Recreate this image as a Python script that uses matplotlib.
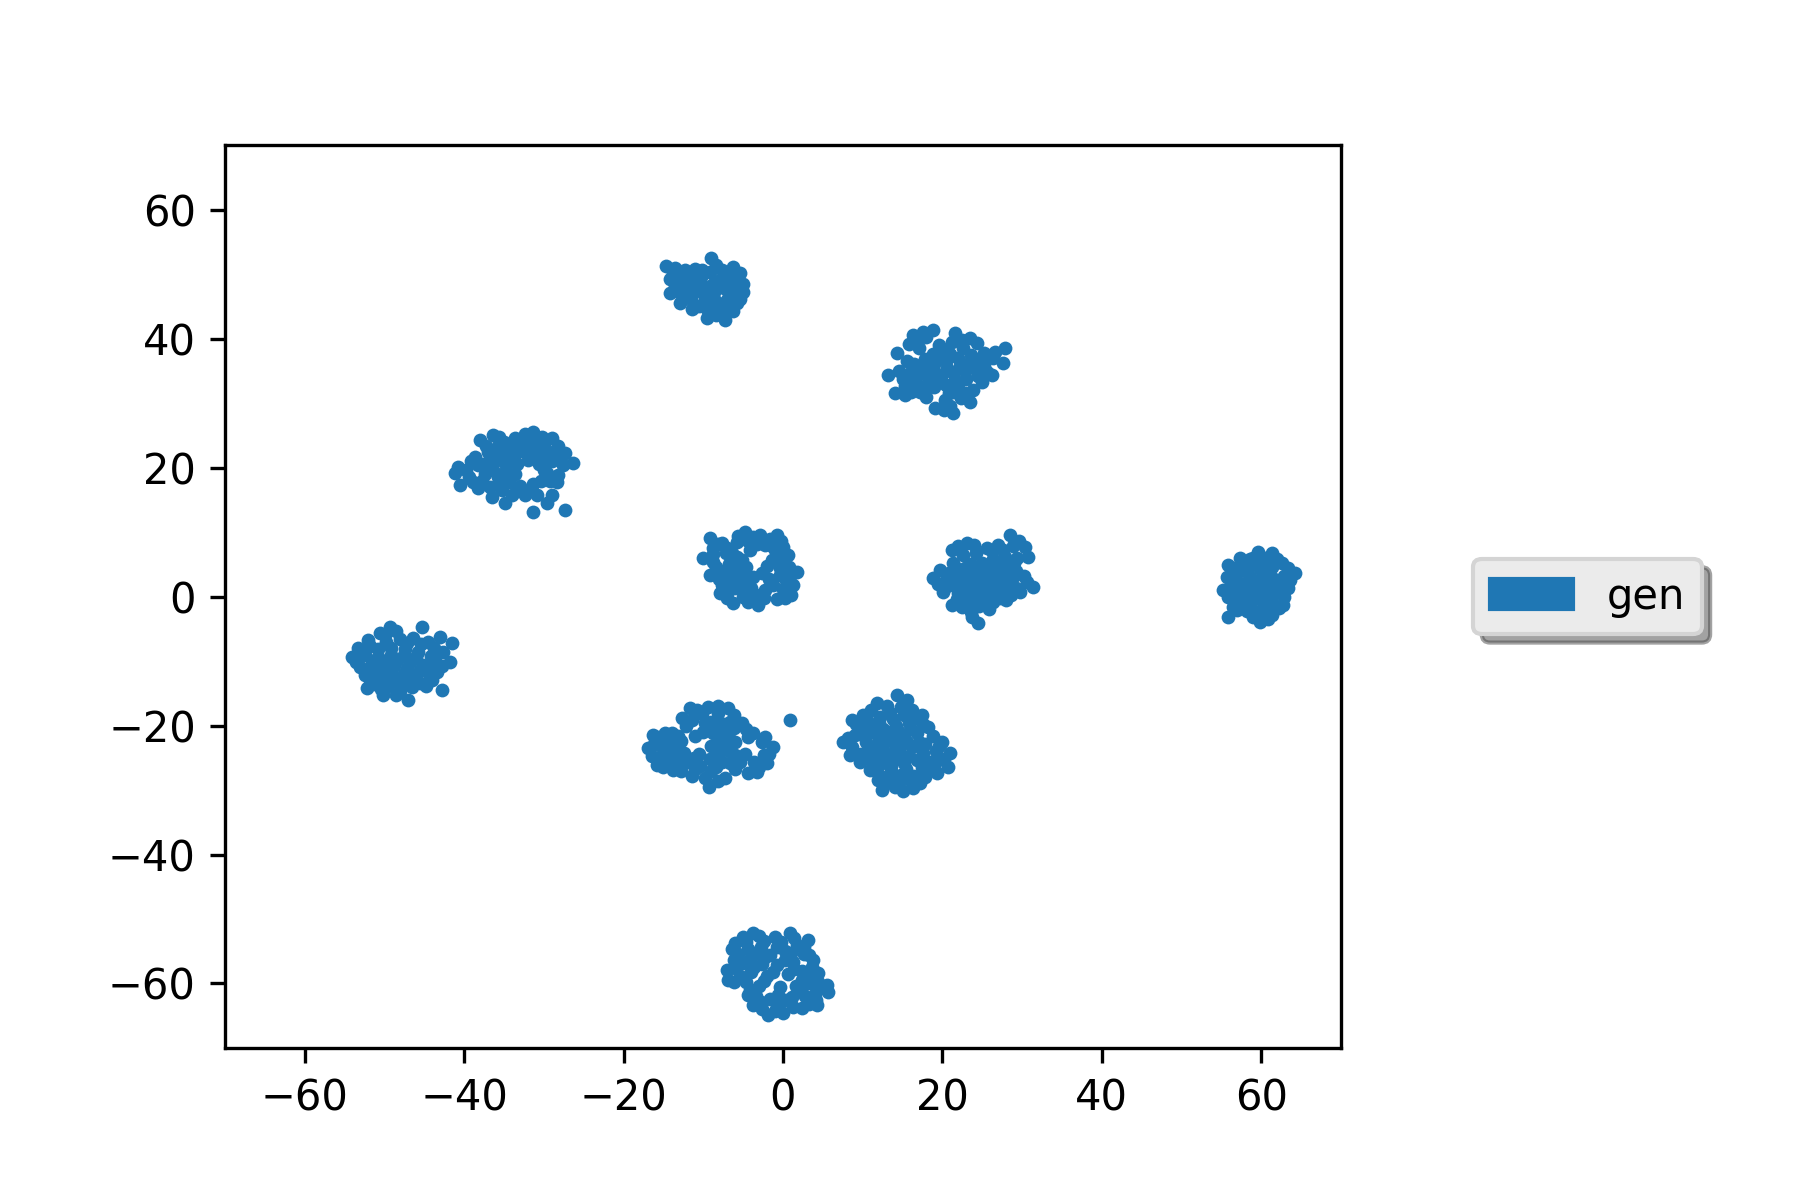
import matplotlib
matplotlib.use("Agg")
import matplotlib.pyplot as plt
import matplotlib.patches as mpatches
import numpy as np

# Cluster point coordinates (x, y)
cluster_top = [(-14.7,51.2),(-13.5,51.0),(-12.3,50.6),(-11.0,50.8),(-14.2,49.2),(-13.0,49.0),(-11.8,48.8),(-14.2,47.1),(-13.0,47.3),(-12.9,45.5),(-11.6,46.2),(-10.5,47.5),(-10.3,49.5),(-9.0,52.5),(-9.2,50.3),(-8.2,49.0),(-7.6,50.6),(-6.3,51.1),(-5.4,50.2),(-6.6,49.2),(-5.0,48.4),(-5.0,47.2),(-6.2,47.6),(-7.4,47.8),(-8.6,47.3),(-9.8,46.4),(-10.6,45.0),(-9.5,44.6),(-8.2,45.6),(-7.0,46.0),(-5.8,45.6),(-6.3,44.3),(-7.3,42.9),(-8.4,43.6),(-9.5,43.2),(-7.6,44.4),(-11.4,44.6),(-10.0,48.2),(-12.0,47.8),(-8.8,48.4),
               (-13.8,50.2),(-12.6,49.8),(-11.4,49.8),(-10.2,50.6),(-8.4,51.4),(-6.9,50.0),(-5.8,49.0),(-7.8,48.6),(-9.4,47.6),(-11.2,47.2),(-12.4,46.4),(-13.6,48.2),(-10.0,45.4),(-8.6,46.2),(-6.8,47.0),(-5.4,46.2),(-7.0,45.0),(-8.0,44.2),(-9.0,45.0),(-10.9,48.4),(-6.2,48.3)]

cluster_b = [(16.3,40.5),(17.6,41.0),(18.8,41.3),(15.8,39.2),(17.0,38.5),(21.6,40.9),(21.2,39.5),(23.5,40.1),(24.3,39.3),(22.6,38.6),(20.2,38.2),(18.8,37.6),(14.3,37.8),(15.5,36.6),(13.2,34.3),(14.5,35.0),(16.0,34.8),(17.5,35.6),(19.0,36.0),(20.5,36.6),(22.0,37.0),(23.6,37.4),(25.2,37.8),(26.6,38.0),(27.9,38.5),(27.6,36.2),(26.2,34.3),(25.2,35.8),(24.0,35.5),(22.8,35.0),(21.3,34.6),(19.8,34.2),(18.3,33.8),(16.8,33.0),(15.3,32.6),(14.1,31.6),(15.3,31.2),(17.2,31.8),(19.0,32.5),(20.5,32.8),(22.0,33.0),(23.8,32.0),(23.5,30.2),(22.3,30.8),(20.3,30.5),(19.1,29.2),(20.2,29.0),(21.3,28.4),(25.0,33.2),(20.8,31.6),
             (16.8,39.8),(18.0,40.2),(19.6,39.0),(22.4,39.8),(21.0,37.6),(19.4,37.0),(17.8,36.8),(16.4,36.0),(15.0,33.8),(16.2,33.8),(17.6,34.6),(19.0,35.0),(20.6,35.4),(22.2,35.8),(23.4,36.4),(24.8,36.8),(26.4,37.0),(25.6,34.8),(24.4,34.2),(23.0,33.8),(21.6,33.6),(20.0,33.2),(18.2,32.6),(16.0,31.8),(18.0,31.0),(21.4,31.8),(22.8,31.6),(21.0,29.6)]

cluster_c = [(-38.0,24.3),(-36.4,25.0),(-35.0,24.0),(-33.6,24.6),(-32.4,25.2),(-31.4,25.5),(-30.2,24.8),(-29.0,24.6),(-28.2,23.4),(-27.3,22.2),(-26.3,20.7),(-27.6,20.4),(-29.0,21.0),(-30.2,22.3),(-31.4,23.0),(-32.8,22.6),(-34.2,22.4),(-35.6,22.6),(-37.0,22.4),(-38.6,21.6),(-37.6,20.6),(-36.2,20.8),(-34.8,20.4),(-33.4,20.6),(-32.0,21.2),(-30.6,20.6),(-29.6,19.2),(-28.2,18.8),(-28.4,17.8),(-30.4,18.0),(-31.4,17.4),(-33.0,17.2),(-34.4,17.8),(-35.8,18.6),(-37.4,19.0),(-38.9,17.8),(-39.8,19.6),(-41.1,19.1),(-40.8,20.1),(-40.5,17.3),(-36.8,17.0),(-35.2,16.6),(-33.4,16.4),(-32.4,15.7),(-36.5,15.4),(-34.9,14.5),(-31.4,13.1),(-29.6,14.5),(-27.3,13.4),(-30.8,15.8),(-39.2,21.0),(-35.6,24.8),
             (-37.2,23.4),(-35.8,23.4),(-34.4,23.2),(-33.0,23.6),(-31.6,24.2),(-30.0,23.6),(-28.8,22.4),(-28.0,21.2),(-29.6,21.8),(-31.2,21.8),(-33.8,21.4),(-35.4,21.6),(-36.8,21.4),(-38.2,20.4),(-39.4,18.6),(-37.8,18.0),(-36.4,19.6),(-35.0,19.2),(-33.6,19.0),(-30.0,19.6),(-29.2,18.0),(-31.8,16.4),(-34.0,15.8),(-35.6,17.6),(-38.2,16.8),(-29.0,15.8)]

cluster_d = [(-9.2,9.1),(-8.2,8.2),(-10.0,6.0),(-8.8,6.6),(-7.6,8.3),(-7.2,6.8),(-4.8,10.0),(-3.8,9.2),(-2.9,9.5),(-0.8,9.5),(-0.2,8.6),(0.0,7.7),(0.6,6.4),(1.8,3.8),(1.3,1.8),(0.3,-0.2),(0.4,2.6),(-0.4,4.5),(-0.6,6.2),(-1.4,7.8),(-2.2,8.0),(-5.8,8.4),(-6.4,6.8),(-5.2,5.6),(-6.8,5.0),(-8.4,4.6),(-9.2,3.3),(-8.0,2.8),(-6.6,3.0),(-5.0,3.8),(-4.6,2.2),(-6.0,1.4),(-7.9,0.5),(-7.0,-0.2),(-6.3,-1.0),(-5.0,0.0),(-3.6,0.4),(-3.1,-1.3),(-2.2,1.0),(-1.8,2.8),(-2.0,4.8),(-0.8,-0.4),(-1.2,1.8),(-4.2,7.2),(1.0,0.2),
             (-8.8,7.6),(-7.0,7.6),(-5.6,9.4),(-4.4,8.6),(-3.2,8.2),(-1.6,9.0),(-1.0,7.2),(-0.2,5.4),(0.8,4.6),(0.9,3.2),(0.0,1.2),(-0.4,3.4),(-1.4,5.6),(-2.6,3.6),(-3.8,3.0),(-4.0,1.4),(-5.4,1.6),(-5.8,3.0),(-6.0,4.4),(-7.4,4.0),(-8.8,5.4),(-7.6,1.8),(-6.8,1.0),(-4.4,-0.8),(-2.4,-0.2),(-5.8,6.2),(-4.6,4.6)]

cluster_e = [(21.2,7.2),(23.1,8.3),(22.6,6.4),(24.2,6.8),(25.6,7.5),(27.0,8.0),(28.5,9.5),(28.8,7.8),(30.4,7.7),(30.7,6.1),(29.4,6.0),(27.8,6.2),(26.4,5.8),(25.0,5.2),(23.6,5.0),(21.3,5.2),(19.7,4.1),(20.8,3.6),(22.2,3.4),(23.6,3.2),(25.0,3.4),(26.4,4.0),(27.8,4.4),(29.2,4.0),(30.2,3.2),(31.4,1.5),(29.7,0.7),(28.4,2.0),(27.0,2.2),(25.6,1.6),(24.2,1.4),(22.8,1.6),(21.4,1.8),(18.8,2.9),(20.1,0.7),(21.2,-1.3),(22.6,-0.2),(24.0,-0.4),(25.4,-0.2),(26.3,-0.9),(27.2,-0.2),(28.6,0.2),(23.7,-3.2),(24.5,-4.1),(22.4,-1.6),(19.4,2.0),
             (22.0,7.8),(24.0,8.0),(26.2,7.0),(27.6,7.2),(29.6,8.6),(29.0,5.2),(27.2,5.2),(25.8,4.6),(24.4,4.2),(22.8,4.4),(21.6,4.6),(20.4,2.6),(21.8,2.6),(23.2,2.4),(24.6,2.4),(26.0,2.8),(27.4,3.2),(28.8,3.0),(30.6,2.2),(29.2,1.4),(27.8,1.2),(26.6,0.8),(25.0,0.6),(23.4,0.6),(22.0,0.6),(20.6,1.6),(23.2,-1.2),(24.6,-1.4),(25.8,-2.0),(23.6,-2.4),(21.8,-0.4),(28.0,-0.6)]

cluster_f = [(55.8,4.9),(57.3,6.0),(59.6,6.9),(61.4,6.7),(62.6,5.2),(64.2,3.6),(63.4,1.3),(62.7,-1.3),(61.4,-2.9),(59.9,-4.0),(55.8,-3.2),(57.0,-2.1),(55.2,1.0),(55.7,3.0),(57.0,4.0),(58.4,4.8),(60.0,5.2),(61.4,4.6),(62.8,3.2),(61.6,2.8),(60.2,3.2),(58.6,3.0),(57.0,2.2),(56.4,0.4),(57.8,0.8),(59.2,1.4),(60.6,1.2),(62.0,0.8),(61.4,-0.8),(60.0,-0.6),(58.6,-0.8),(57.4,-0.6),(58.2,-2.2),(59.6,-2.4),(60.6,-1.8),(58.6,5.8),(60.2,-3.4),(56.4,-1.6),
             (56.4,4.4),(57.6,5.2),(59.0,6.0),(60.6,6.0),(62.0,5.8),(63.4,4.4),(63.6,2.6),(62.6,2.0),(61.0,2.0),(59.4,2.4),(57.8,2.0),(56.2,2.2),(55.8,0.0),(56.6,-0.8),(57.2,1.4),(58.6,0.2),(60.0,0.4),(61.4,0.2),(62.8,0.0),(62.2,-1.8),(61.0,-2.2),(59.0,-3.2),(57.6,-1.4),(59.8,4.2),(61.0,3.6),(58.2,3.8),(56.8,3.4),(60.8,-3.4),(58.6,-1.6)]

cluster_g = [(-49.3,-4.7),(-45.3,-4.7),(-43.0,-6.3),(-41.5,-7.2),(-41.8,-10.1),(-43.4,-11.7),(-42.8,-14.5),(-47.0,-16.0),(-50.2,-15.3),(-52.2,-14.2),(-54.1,-9.4),(-53.3,-8.0),(-52.1,-6.7),(-49.9,-6.0),(-53.1,-10.9),(-44.5,-7.1),(-45.5,-13.4),(-48.0,-6.6),(-46.4,-6.4),(-50.8,-8.2),(-49.2,-8.0),(-47.4,-8.2),(-45.8,-8.6),(-44.2,-9.2),(-51.6,-10.0),(-50.0,-10.0),(-48.4,-9.8),(-46.8,-10.2),(-45.2,-10.6),(-43.6,-10.0),(-52.4,-12.2),(-50.8,-12.0),(-49.2,-11.8),(-47.6,-12.0),(-46.0,-12.2),(-44.4,-12.0),(-51.4,-13.6),(-49.6,-13.8),(-48.0,-13.6),(-46.6,-14.0),(-48.6,-15.2),(-44.8,-13.8),
             (-50.6,-5.6),(-48.6,-5.4),(-47.2,-7.2),(-45.4,-7.4),(-43.8,-8.0),(-42.6,-8.6),(-42.8,-10.8),(-44.4,-10.8),(-46.0,-9.4),(-47.6,-9.0),(-49.2,-9.0),(-50.8,-9.4),(-52.4,-9.0),(-53.6,-10.2),(-52.0,-11.2),(-50.4,-11.0),(-48.8,-10.8),(-47.2,-11.0),(-45.6,-11.4),(-44.0,-13.0),(-46.8,-13.0),(-48.4,-12.8),(-50.0,-12.8),(-51.8,-13.0),(-50.4,-14.4),(-48.0,-14.6),(-51.8,-7.6),(-49.8,-7.0)]

cluster_h = [(-11.7,-17.3),(-9.4,-17.1),(-6.9,-17.3),(-8.2,-18.0),(-5.1,-19.6),(-12.7,-18.8),(-12.2,-20.0),(-16.3,-21.5),(-14.8,-21.2),(-13.9,-21.2),(-16.9,-23.5),(-15.6,-22.8),(-14.2,-22.6),(-12.8,-22.4),(-15.8,-26.1),(-15.2,-24.6),(-13.8,-24.0),(-12.4,-24.2),(-13.8,-26.9),(-14.6,-25.6),(-12.0,-25.6),(-11.4,-27.9),(-10.4,-26.2),(-10.6,-24.4),(-9.3,-29.5),(-9.0,-27.0),(-9.2,-25.2),(-9.0,-23.2),(-8.8,-21.2),(-9.0,-19.4),(-7.4,-19.8),(-7.6,-21.8),(-7.4,-23.6),(-7.6,-25.6),(-7.3,-28.1),(-6.0,-26.8),(-6.0,-24.6),(-6.0,-22.6),(-4.8,-24.4),(-4.4,-27.4),(-3.0,-26.4),(-2.0,-25.8),(-1.3,-23.3),(-2.6,-22.6),(-3.8,-21.2),(-2.4,-24.6),(-10.2,-18.2),(0.9,-19.1),(-11.0,-21.6),(-6.2,-20.4),
             (-10.8,-17.6),(-8.2,-17.0),(-6.2,-18.4),(-11.4,-19.2),(-9.8,-19.6),(-8.4,-19.8),(-6.6,-19.4),(-4.6,-20.6),(-15.6,-21.8),(-13.2,-21.6),(-16.2,-22.8),(-14.8,-23.4),(-13.4,-23.2),(-16.4,-24.8),(-15.0,-26.4),(-13.2,-25.4),(-11.2,-25.0),(-12.8,-27.0),(-11.0,-26.8),(-9.8,-28.2),(-8.2,-28.6),(-8.4,-26.4),(-8.2,-24.4),(-8.0,-22.6),(-8.0,-20.8),(-6.8,-21.0),(-6.6,-22.2),(-6.8,-24.0),(-6.6,-25.8),(-5.4,-25.6),(-3.6,-25.6),(-3.2,-27.2),(-1.8,-24.4),(-2.2,-21.8),(-4.4,-21.8),(-10.0,-21.0)]

cluster_i = [(14.3,-15.3),(15.6,-16.0),(16.2,-17.6),(11.8,-16.5),(10.0,-18.4),(8.7,-19.1),(7.5,-22.6),(8.4,-24.6),(10.9,-26.9),(11.9,-28.4),(12.4,-30.0),(14.1,-29.5),(16.3,-29.7),(17.2,-28.9),(19.3,-27.4),(20.7,-26.4),(21.0,-24.3),(20.0,-22.6),(18.2,-20.3),(17.4,-18.4),(13.4,-18.1),(12.2,-18.6),(9.6,-20.4),(11.0,-20.2),(12.6,-20.6),(14.2,-20.0),(15.8,-19.6),(16.8,-21.2),(15.2,-21.8),(13.6,-22.2),(12.0,-22.4),(10.4,-22.6),(9.0,-21.4),(9.8,-24.4),(11.4,-24.2),(13.0,-24.4),(14.6,-23.8),(16.2,-23.4),(17.8,-22.8),(19.2,-24.0),(18.4,-25.6),(16.8,-25.4),(15.2,-25.8),(13.6,-26.2),(12.2,-26.0),(13.2,-27.8),(14.8,-27.6),(16.4,-27.8),(18.0,-27.0),(19.4,-25.4),
             (13.0,-17.0),(14.8,-17.2),(15.2,-18.4),(16.6,-18.8),(11.0,-17.6),(9.2,-19.8),(10.6,-19.2),(12.0,-19.6),(13.8,-19.0),(17.6,-19.8),(8.2,-22.0),(10.0,-21.4),(11.6,-21.2),(13.2,-21.0),(14.6,-21.0),(16.0,-20.6),(18.8,-21.6),(19.6,-23.2),(8.6,-23.4),(10.8,-23.4),(12.4,-23.2),(14.0,-23.0),(15.6,-22.6),(17.0,-22.6),(9.6,-25.6),(11.0,-25.4),(12.8,-25.2),(14.2,-25.0),(15.8,-24.8),(17.6,-24.2),(20.2,-25.2),(11.8,-27.2),(13.6,-27.0),(15.4,-26.8),(17.4,-26.4),(19.0,-26.4),(12.8,-28.8),(14.6,-28.8),(16.0,-28.6),(17.8,-28.0),(15.0,-30.2)]

cluster_j = [(-3.8,-52.2),(-6.0,-53.7),(-1.0,-52.8),(0.9,-52.2),(3.1,-53.3),(-4.6,-53.6),(-2.4,-53.4),(1.8,-54.0),(3.8,-56.4),(2.6,-55.4),(4.4,-58.4),(5.5,-60.2),(5.6,-61.3),(4.3,-63.3),(2.4,-63.8),(0.0,-64.6),(-1.9,-64.9),(-3.8,-63.3),(-4.4,-61.8),(-7.0,-57.9),(-6.9,-59.5),(-5.0,-56.8),(-5.6,-55.4),(-3.4,-55.2),(-1.6,-55.6),(0.2,-55.0),(1.2,-56.6),(-0.8,-57.2),(-2.6,-57.0),(-4.0,-58.2),(-5.4,-58.8),(-2.0,-58.8),(0.6,-58.6),(2.4,-58.0),(3.2,-60.0),(1.6,-60.4),(-0.4,-60.6),(-3.0,-60.4),(-1.6,-62.4),(0.2,-62.6),(1.1,-62.1),(2.8,-62.0),(4.0,-61.6),(-2.8,-62.8),(-0.8,-63.6),
             (-5.0,-52.8),(-3.0,-52.6),(-0.2,-53.6),(1.4,-53.0),(2.6,-54.4),(-6.4,-54.6),(-4.4,-54.6),(-2.8,-54.4),(-0.8,-54.4),(1.0,-55.2),(3.2,-55.6),(-6.2,-56.4),(-4.2,-56.2),(-2.4,-56.0),(0.2,-56.4),(3.6,-57.4),(-6.0,-57.6),(-3.6,-57.4),(-1.2,-58.2),(1.4,-57.8),(3.4,-58.8),(-6.2,-59.8),(-4.6,-59.8),(-2.4,-59.6),(2.4,-59.4),(4.4,-59.8),(-4.2,-61.0),(-0.6,-61.8),(2.2,-61.0),(4.2,-62.6),(3.2,-63.2),(1.2,-63.6),(-1.0,-64.2),(-2.6,-64.0),(-3.4,-62.0),(4.8,-60.6)]

clusters = [cluster_top, cluster_b, cluster_c, cluster_d, cluster_e,
            cluster_f, cluster_g, cluster_h, cluster_i, cluster_j]
legend_label = "gen"
color = "#1f77b4"
ticks = [-60, -40, -20, 0, 20, 40, 60]

pts = np.array([p for c in clusters for p in c])

fig = plt.figure(figsize=(6, 4), dpi=300)
ax = fig.add_axes([0.125, 0.1267, 0.62, 0.7523])
ax.scatter(pts[:, 0], pts[:, 1], s=11, c=color, linewidths=0)
ax.set_xlim(-70, 70)
ax.set_ylim(-70, 70)
ax.set_xticks(ticks)
ax.set_yticks(ticks)
handle = mpatches.Patch(color=color, label=legend_label)
leg = ax.legend(handles=[handle], loc="center left", bbox_to_anchor=(1.1, 0.5),
                fancybox=True, shadow=True, framealpha=1)
leg.get_frame().set_facecolor("#ebebeb")
leg.get_frame().set_edgecolor("#d4d4d4")
fig.savefig("out.png", dpi=300)
